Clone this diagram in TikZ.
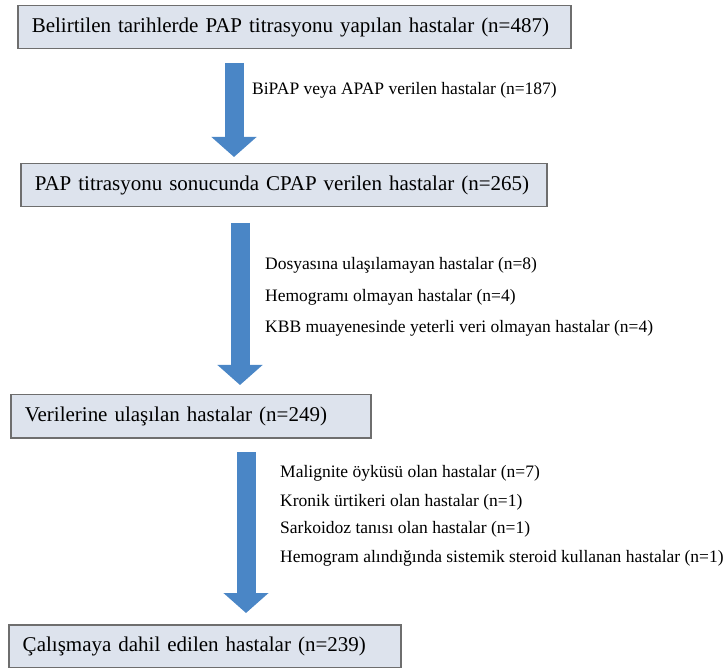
\documentclass[tikz,border=0pt]{standalone}
\usepackage{fontspec}
\setmainfont{Liberation Serif}
\usepackage{xcolor}
\usetikzlibrary{arrows.meta}
\definecolor{fgray}{HTML}{6e6e6e}
\definecolor{fpale}{HTML}{dde3ed}
\definecolor{fblue}{HTML}{4a86c6}

\begin{document}
\begin{tikzpicture}[x=1pt, y=-1pt,
		stagebox/.style={draw=fgray, fill=fpale, line width=1.5pt, anchor=north west, align=left, minimum height=43pt, inner xsep=14pt, font=\fontsize{21}{24}\selectfont},
		droptext/.style={anchor=west, inner sep=0pt, font=\fontsize{17.5}{20}\selectfont},
		downarrow/.style={color=fblue, line width=19pt, -{Triangle[width=44pt, length=20pt]}}]
		\useasboundingbox (0,0) rectangle (726,668);
		\node[stagebox, text width=525pt] (b1) at (17,5) {Belirtilen tarihlerde PAP titrasyonu yapılan hastalar (n=487)};
		\node[stagebox, text width=498pt] (b2) at (20,163) {PAP titrasyonu sonucunda CPAP verilen hastalar (n=265)};
		\node[stagebox, text width=332pt] (b3) at (10,394) {Verilerine ulaşılan hastalar (n=249)};
		\node[stagebox, text width=364pt] (b4) at (8,624) {Çalışmaya dahil edilen hastalar (n=239)};
		\coordinate (A1) at (234,63);
		\coordinate (A2) at (234,157);
		\coordinate (B1) at (240,223);
		\coordinate (B2) at (240,385);
		\coordinate (C1) at (246,452);
		\coordinate (C2) at (246,613);
		\draw[downarrow] (A1) -- (A2);
		\draw[downarrow] (B1) -- (B2);
		\draw[downarrow] (C1) -- (C2);
		\node[droptext] (t1) at (252,90) {BiPAP veya APAP verilen hastalar (n=187)};
		\node[droptext] (t2) at (265,265) {Dosyasına ulaşılamayan hastalar (n=8)};
		\node[droptext] (t3) at (265,297) {Hemogramı olmayan hastalar (n=4)};
		\node[droptext] (t4) at (265,328) {KBB muayenesinde yeterli veri olmayan hastalar (n=4)};
		\node[droptext] (t5) at (280,473) {Malignite öyküsü olan hastalar (n=7)};
		\node[droptext] (t6) at (280,502) {Kronik ürtikeri olan hastalar (n=1)};
		\node[droptext] (t7) at (280,529) {Sarkoidoz tanısı olan hastalar (n=1)};
		\node[droptext] (t8) at (280,558) {Hemogram alındığında sistemik steroid kullanan hastalar (n=1)};
	\end{tikzpicture}
\end{document}
